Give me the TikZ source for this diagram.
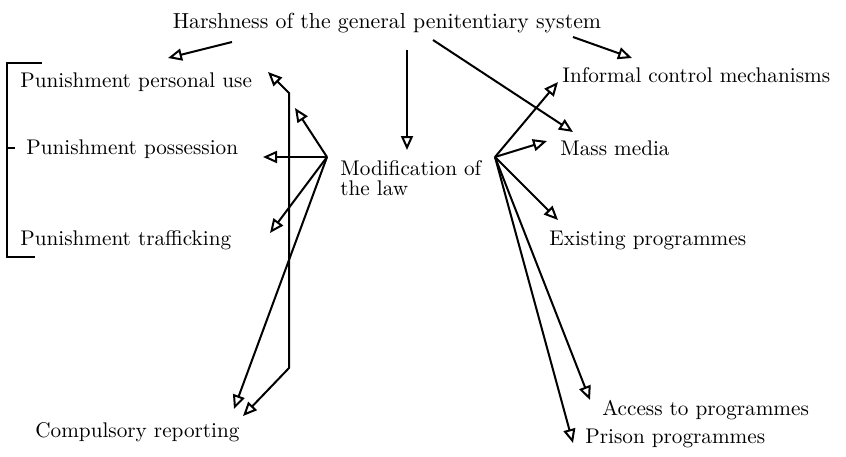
\documentclass[tikz,border=0pt]{standalone}
\usetikzlibrary{arrows.meta, positioning}
\tikzset{
  term/.style={
    anchor=base west,
    inner sep=0pt,
    align=left,
    font=\fontsize{10.6}{10}\selectfont
  },
  arrow/.style={-{Triangle[open, length=7pt, width=6pt]}, line width=1pt},
  twoway/.style={{Triangle[open, length=7pt, width=6pt]}-{Triangle[open, length=7pt, width=6pt]}, line width=1pt},
  bracket/.style={line width=1pt}
}

\begin{document}
\begin{tikzpicture}[x=0.5pt, y=-0.5pt]
\useasboundingbox (0,0) rectangle (846,456);

\node[term, anchor=base, font=\fontsize{10.9}{10}\selectfont] (harsh) at (387,28) {Harshness of the general penitentiary system};
\node[term] (personal) at (20,87) {Punishment personal use};
\node[term] (possession) at (26,154) {Punishment possession};
\node[term] (trafficking) at (20,245) {Punishment trafficking};
\node[term] (reporting) at (35,437) {Compulsory reporting};
\node[term] (modif) at (340,195) {Modification of\\the law};
\node[term] (informal) at (562,82) {Informal control mechanisms};
\node[term] (media) at (560,155) {Mass media};
\node[term] (existing) at (549,245) {Existing programmes};
\node[term] (access) at (602,415) {Access to programmes};
\node[term] (prison) at (585,443) {Prison programmes};

% hubs and arrow ends
\coordinate (lhub) at (327,157);
\coordinate (rhub) at (495,157);
\coordinate (harsh-l) at (232,42);
\coordinate (harsh-m) at (407,50);
\coordinate (harsh-r1) at (433,40);
\coordinate (harsh-r2) at (573,37);
\coordinate (punish-in) at (168,58);
\coordinate (modif-in) at (407,150);
\coordinate (media-in1) at (573,132);
\coordinate (informal-in1) at (632,58);
\coordinate (personal-in) at (295,108);
\coordinate (possession-in) at (263,157);
\coordinate (trafficking-in) at (270,233);
\coordinate (reporting-in1) at (234,409);
\coordinate (personal-in2) at (268,72);
\coordinate (reporting-in2) at (243,416);
\coordinate (informal-in2) at (558,82);
\coordinate (media-in2) at (547,141);
\coordinate (existing-in) at (558,220);
\coordinate (access-in) at (590,400);
\coordinate (prison-in) at (573,443);

% bracket round the punishments
\draw[bracket] (42,63) -- (7,63) -- (7,257) -- (35,257);
\draw[bracket] (7,148) -- (15,148);

\draw[arrow] (harsh-l) -- (punish-in);
\draw[arrow] (harsh-m) -- (modif-in);
\draw[arrow] (harsh-r1) -- (media-in1);
\draw[arrow] (harsh-r2) -- (informal-in1);

\draw[arrow] (lhub) -- (personal-in);
\draw[arrow] (lhub) -- (possession-in);
\draw[arrow] (lhub) -- (trafficking-in);
\draw[arrow] (lhub) -- (reporting-in1);
\draw[twoway] (personal-in2) -- (289,93) -- (289,368) -- (reporting-in2);

\draw[arrow] (rhub) -- (informal-in2);
\draw[arrow] (rhub) -- (media-in2);
\draw[arrow] (rhub) -- (existing-in);
\draw[arrow] (rhub) -- (access-in);
\draw[arrow] (rhub) -- (prison-in);
\end{tikzpicture}
\end{document}
